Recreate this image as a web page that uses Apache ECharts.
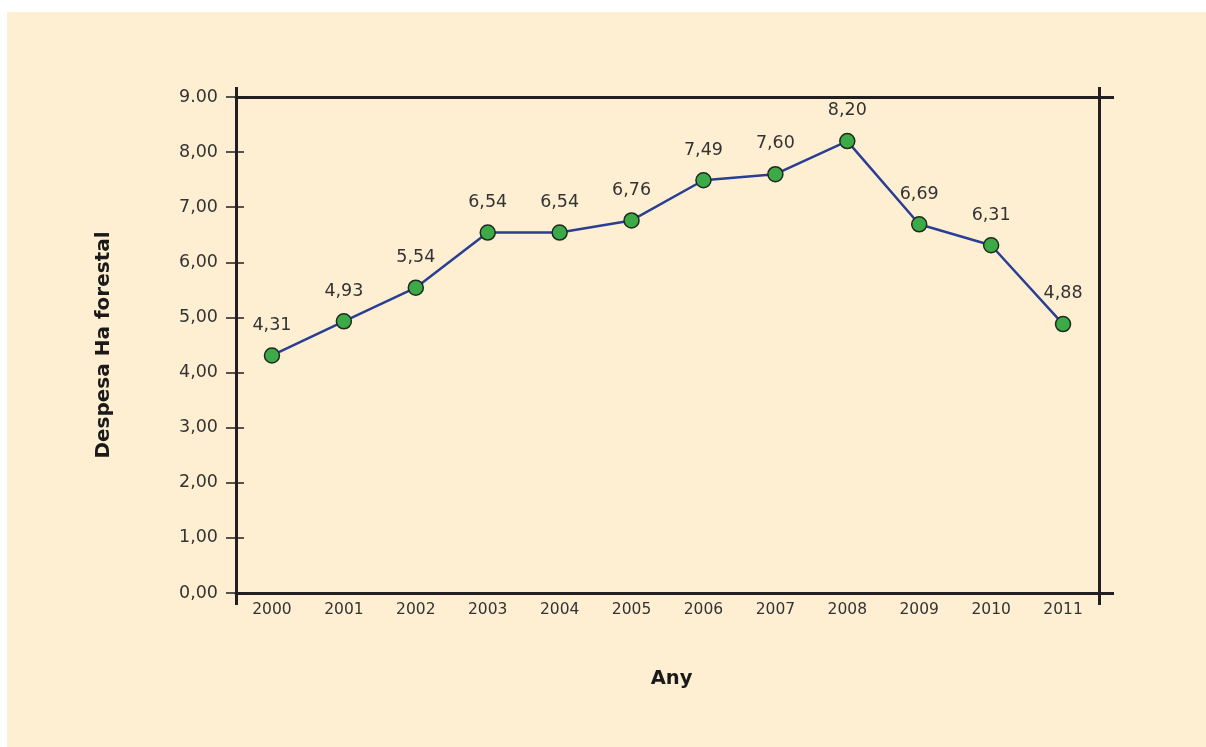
<!DOCTYPE html>
<html>
<head>
<meta charset="utf-8">
<script src="https://cdn.jsdelivr.net/npm/echarts@6/dist/echarts.min.js"></script>
<style>
html,body{margin:0;padding:0;background:#ffffff;width:1206px;height:747px;overflow:hidden;}
#panel{position:absolute;left:7px;top:12px;width:1199px;height:735px;background:#FEEFD3;}
#chart{position:absolute;left:0;top:0;width:1206px;height:747px;}
</style>
</head>
<body>
<div id="panel"></div>
<div id="chart"></div>
<script>
const years = ['2000','2001','2002','2003','2004','2005','2006','2007','2008','2009','2010','2011'];
const spending = [4.31, 4.93, 5.54, 6.54, 6.54, 6.76, 7.49, 7.60, 8.20, 6.69, 6.31, 4.88];
const yTicks = [0, 1, 2, 3, 4, 5, 6, 7, 8, 9];

const font = '"DejaVu Sans", "Liberation Sans", Arial, sans-serif';
const ink = '#231F20';
const txt = '#333333';
const fmt = v => v.toFixed(2).replace('.', ',');

const chart = echarts.init(document.getElementById('chart'), null, {renderer: 'canvas'});
chart.setOption({
  backgroundColor: 'transparent',
  animation: false,
  textStyle: {fontFamily: font},
  grid: {left: 236, right: 107, top: 97, bottom: 154, containLabel: false},
  xAxis: [
    {
      type: 'category', data: years, position: 'bottom', boundaryGap: true,
      axisLine: {show: true, lineStyle: {color: ink, width: 3}},
      axisTick: {show: false},
      axisLabel: {color: txt, fontSize: 15.5, margin: 9, fontFamily: font},
      splitLine: {show: false},
      name: 'Any', nameLocation: 'middle', nameGap: 76,
      nameTextStyle: {fontSize: 19.5, fontWeight: 'bold', color: '#1a1a1a', fontFamily: font, padding: [0, 0, 0, 8]}
    },
    {
      type: 'value', position: 'top', min: 0, max: 12, interval: 12,
      axisLine: {show: true, onZero: false, lineStyle: {color: ink, width: 3}},
      axisTick: {show: true, inside: false, length: 10, lineStyle: {color: ink, width: 3}},
      axisLabel: {show: false}, splitLine: {show: false}
    },
    {
      type: 'value', position: 'bottom', min: 0, max: 12, interval: 12,
      axisLine: {show: false},
      axisTick: {show: true, inside: false, length: 12, lineStyle: {color: ink, width: 3}},
      axisLabel: {show: false}, splitLine: {show: false}
    }
  ],
  yAxis: [
    {
      type: 'value', position: 'left', min: 0, max: 9, interval: 1,
      axisLine: {show: true, lineStyle: {color: ink, width: 3}},
      axisTick: {show: true, inside: false, length: 10, lineStyle: {color: ink, width: 1.5}},
      axisLabel: {
        color: txt, fontSize: 17.5, margin: 18, fontFamily: font,
        formatter: v => (v === yTicks[yTicks.length - 1] ? v.toFixed(2) : fmt(v))
      },
      splitLine: {show: false},
      name: 'Despesa Ha forestal', nameLocation: 'middle', nameGap: 122, nameRotate: 90,
      nameTextStyle: {fontSize: 20, fontWeight: 'bold', color: '#1a1a1a', fontFamily: font}
    },
    {
      type: 'value', position: 'left', min: 0, max: 9, interval: 1,
      axisLine: {show: false},
      axisTick: {show: true, inside: true, length: 8, lineStyle: {color: ink, width: 1.5}},
      axisLabel: {show: false}, splitLine: {show: false}
    },
    {
      type: 'value', position: 'right', min: 0, max: 9, interval: 9,
      axisLine: {show: true, lineStyle: {color: ink, width: 3}},
      axisTick: {show: true, inside: false, length: 15, lineStyle: {color: ink, width: 3}},
      axisLabel: {show: false}, splitLine: {show: false}
    }
  ],
  series: [{
    type: 'line', data: spending, xAxisIndex: 0, yAxisIndex: 0,
    symbol: 'circle', symbolSize: 15,
    lineStyle: {color: '#2A3E93', width: 2.5},
    itemStyle: {color: '#3DAA48', borderColor: '#1f2a1f', borderWidth: 1.5},
    label: {
      show: true, position: 'top', distance: 13,
      color: txt, fontSize: 17.5, fontFamily: font,
      formatter: p => fmt(p.value)
    },
    z: 5
  }]
});
</script>
</body>
</html>
